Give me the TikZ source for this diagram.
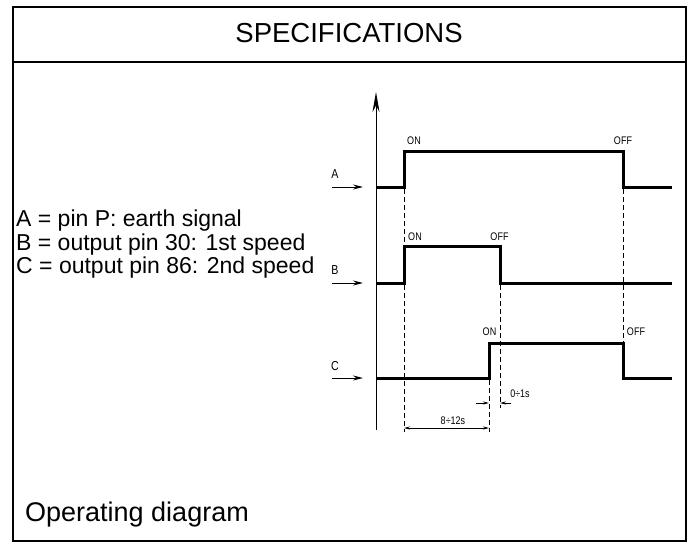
\documentclass[tikz,border=0pt]{standalone}
\usepackage{fontspec}
\setmainfont{Liberation Sans}
\newfontfamily\narrowfont[FakeStretch=0.82]{Liberation Sans}
\usetikzlibrary{arrows.meta}
\begin{document}
\begin{tikzpicture}[x=1pt,y=-1pt,
  frame/.style={line width=1.8pt,draw=black},
  wave/.style={line width=3pt,line join=miter},
  axisline/.style={line width=0.9pt,-{Stealth[length=20pt,width=7pt]}},
  guide/.style={line width=0.9pt,dash pattern=on 5pt off 3pt},
  sigarrow/.style={line width=1pt,-{Stealth[length=10pt,width=5pt]}},
  dimarrow/.style={line width=0.8pt,-{Stealth[length=6pt,width=3pt]}},
  small/.style={font=\narrowfont\fontsize{11}{12}\selectfont,inner sep=0pt},
  siglab/.style={font=\narrowfont\fontsize{13}{14}\selectfont,inner sep=0pt},
  legend/.style={font=\fontsize{23}{26}\selectfont,anchor=base west,inner sep=0pt}]
\useasboundingbox (0,0) rectangle (691,543);
\fill[white] (0,0) rectangle (691,543);
% frame
\draw[frame] (13,7) rectangle (686,541);
\draw[frame] (13,62) -- (686,62);
\node[anchor=base,inner sep=0pt,font=\fontsize{27.5}{30}\selectfont] (title) at (349,43) {SPECIFICATIONS};
% legend
\node[legend] (la) at (16,226) {A = pin P: earth signal};
\node[legend] (lb) at (16,250) {B = output pin 30: 1st speed};
\node[legend] (lc) at (16,273) {C = output pin 86: 2nd speed};
\node[anchor=base west,inner sep=0pt,font=\fontsize{27}{30}\selectfont] (op) at (25,521) {Operating diagram};
% axis
\coordinate (axb) at (376,430);
\coordinate (axt) at (376,92);
\draw[axisline] (axb) -- (axt);
% signal label arrows
\coordinate (sa0) at (332,187); \coordinate (sa1) at (363,187);
\coordinate (sb0) at (332,283); \coordinate (sb1) at (363,283);
\coordinate (sc0) at (332,378); \coordinate (sc1) at (363,378);
\draw[sigarrow] (sa0) -- (sa1);
\draw[sigarrow] (sb0) -- (sb1);
\draw[sigarrow] (sc0) -- (sc1);
\node[siglab] (ta) at (335,174) {A};
\node[siglab] (tb) at (335,270) {B};
\node[siglab] (tc) at (335,366) {C};
% guides
\draw[guide] (404,189) -- (404,432);
\draw[guide] (623,189) -- (623,343);
\draw[guide] (500,285) -- (500,408);
\draw[guide] (489,380) -- (489,432);
% waveforms
\draw[wave] (376,187) -- (404,187) -- (404,151) -- (623,151) -- (623,187) -- (672,187);
\draw[wave] (376,283) -- (404,283) -- (404,246) -- (500,246) -- (500,283) -- (672,283);
\draw[wave] (376,378) -- (489,378) -- (489,343) -- (623,343) -- (623,378) -- (672,378);
% ON / OFF
\node[small] (aon) at (414,141) {ON};
\node[small] (aoff) at (623,141) {OFF};
\node[small] (bon) at (415,237) {ON};
\node[small] (boff) at (499.5,237) {OFF};
\node[small] (con) at (489.5,332) {ON};
\node[small] (coff) at (636,332) {OFF};
% dimensions
\coordinate (d8m) at (446,428);
\draw[dimarrow] (d8m) -- (404,428);
\draw[dimarrow] (d8m) -- (489,428);
\node[small] (t812) at (453,421) {8÷12s};
\draw[dimarrow] (476,403) -- (489,403);
\draw[dimarrow] (511,403) -- (500,403);
\node[small] (t01) at (520,394) {0÷1s};
\end{tikzpicture}
\end{document}
